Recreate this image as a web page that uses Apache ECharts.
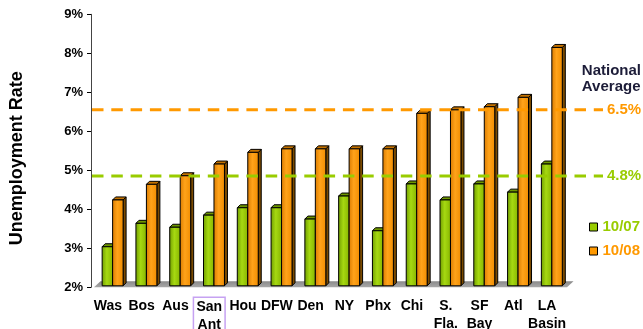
<!DOCTYPE html>
<html>
<head>
<meta charset="utf-8">
<script src="https://cdn.jsdelivr.net/npm/echarts@6/dist/echarts.min.js"></script>
<style>
  html, body { margin: 0; padding: 0; background: #ffffff; }
  #chart { width: 643px; height: 329px; }
</style>
</head>
<body>
<div id="chart"></div>
<script>
// Metro unemployment rates, October 2007 vs October 2008 (percent)
const categories = ['Was', 'Bos', 'Aus', 'San\nAnt', 'Hou', 'DFW', 'Den', 'NY', 'Phx', 'Chi', 'S.\nFla.', 'SF\nBay', 'Atl', 'LA\nBasin'];
const rate2007 = [3.04, 3.64, 3.54, 3.85, 4.04, 4.04, 3.75, 4.34, 3.45, 4.65, 4.24, 4.65, 4.44, 5.16];
const rate2008 = [4.24, 4.64, 4.86, 5.16, 5.46, 5.55, 5.55, 5.55, 5.55, 6.46, 6.55, 6.63, 6.87, 8.15];
const seriesNames = ['10/07', '10/08'];
const nationalAverage = [4.8, 6.5];   // 10/07, 10/08
const highlighted = 'San\nAnt';
const yMin = 2, yMax = 9, yStep = 1;

const FONT = '"Liberation Sans", Arial, Helvetica, sans-serif';
const GREEN = '#99cc00';
const ORANGE = '#ff9900';
const palette = {
  green:  { front: ['#6f9c00', '#a6d911', '#86b300'], side: '#4f6b00', top: '#6e9600' },
  orange: { front: ['#d97a00', '#ffa31a', '#f08c00'], side: '#7a4a00', top: '#c47200' }
};
const DX = 3, DY = 3;        // bar depth
const WALL = 2;              // reference lines sit on the back wall

function barRenderer(slot, pal) {
  return function (params, api) {
    const i = api.value(0);
    const v = api.value(1);
    const bw = api.size([1, 0])[0];
    const topPt = api.coord([i, v]);
    const basePt = api.coord([i, yMin]);
    const w = bw * 0.31;
    const x0 = topPt[0] - bw * 0.17 + slot * w;
    const x1 = x0 + w;
    const yT = topPt[1];
    const yB = basePt[1] - 1.5;
    const grad = new echarts.graphic.LinearGradient(0, 0, 1, 0, [
      { offset: 0, color: pal.front[0] },
      { offset: 0.45, color: pal.front[1] },
      { offset: 1, color: pal.front[2] }
    ]);
    const edge = { stroke: '#000', lineWidth: 1, lineJoin: 'round' };
    return {
      type: 'group',
      children: [
        { type: 'polygon', shape: { points: [[x1, yT], [x1 + DX, yT - DY], [x1 + DX, yB - DY], [x1, yB]] },
          style: Object.assign({ fill: pal.side }, edge) },
        { type: 'polygon', shape: { points: [[x0, yT], [x0 + DX, yT - DY], [x1 + DX, yT - DY], [x1, yT]] },
          style: Object.assign({ fill: pal.top }, edge) },
        { type: 'rect', shape: { x: x0, y: yT, width: w, height: yB - yT },
          style: Object.assign({ fill: grad }, edge) }
      ]
    };
  };
}

function floorRenderer(params, api) {
  const cs = params.coordSys;
  const yb = api.coord([0, yMin])[1];
  const xl = cs.x + 3, xr = cs.x + cs.width + 3;
  return {
    type: 'polygon',
    shape: { points: [[xl, yb], [xr, yb], [xr + 6.5, yb - 6], [xl + 6.5, yb - 6]] },
    style: { fill: new echarts.graphic.LinearGradient(0, 0, 0, 1, [
      { offset: 0, color: '#8a8a8a' }, { offset: 1, color: '#a8a8a8' }
    ]) }
  };
}

const lineColors = [GREEN, ORANGE];
function averageRenderer(params, api) {
  const cs = params.coordSys;
  const v = api.value(1);
  const y = api.coord([0, v])[1] - WALL;
  const xEnd = cs.x + cs.width + 39;
  const color = lineColors[params.dataIndex];
  return {
    type: 'group',
    children: [
      { type: 'line', shape: { x1: cs.x + 1, y1: y, x2: xEnd, y2: y },
        style: { stroke: color, lineWidth: 3, lineDash: [11.5, 7.8] } },
      { type: 'text', x: xEnd + 4, y: y,
        style: { text: v.toFixed(1) + '%', fill: color, font: 'bold 15px ' + FONT,
                 textAlign: 'left', textVerticalAlign: 'middle' } }
    ]
  };
}

const xData = categories.map(function (c) {
  if (c !== highlighted) return c;
  return { value: c, textStyle: { borderColor: '#c6a2f2', borderWidth: 1.5, padding: [1, 3, 14, 3] } };
});

const chart = echarts.init(document.getElementById('chart'), null, { renderer: 'canvas' });
chart.setOption({
  animation: false,
  backgroundColor: '#ffffff',
  textStyle: { fontFamily: FONT },
  title: {
    text: 'National\nAverage',
    right: 2,
    top: 63,
    padding: 0,
    textStyle: { fontFamily: FONT, fontWeight: 'bold', fontSize: 15, lineHeight: 16, color: '#1c1c38' }
  },
  legend: {
    orient: 'vertical',
    left: 589,
    top: 219,
    padding: 0,
    icon: 'rect',
    itemWidth: 8,
    itemHeight: 8,
    itemGap: 8,
    itemStyle: { borderColor: '#000', borderWidth: 1 },
    textStyle: { fontFamily: FONT, fontWeight: 'bold', fontSize: 15, lineHeight: 16 },
    data: [
      { name: seriesNames[0], textStyle: { color: GREEN } },
      { name: seriesNames[1], textStyle: { color: ORANGE } }
    ]
  },
  grid: { left: 91, top: 14.3, width: 473, height: 273, containLabel: false, outerBoundsMode: 'none' },
  xAxis: {
    type: 'category',
    data: xData,
    axisLine: { show: false },
    axisTick: { show: false },
    axisLabel: { interval: 0, margin: 10, color: '#000', fontFamily: FONT, fontWeight: 'bold',
                 fontSize: 14, lineHeight: 18 }
  },
  yAxis: {
    type: 'value',
    min: yMin, max: yMax, interval: yStep,
    name: 'Unemployment Rate',
    nameLocation: 'middle',
    nameRotate: 90,
    nameGap: 65,
    nameTextStyle: { fontFamily: FONT, fontWeight: 'bold', fontSize: 18, color: '#000',
                     padding: [0, 15, 0, 0] },
    axisLine: { show: true, lineStyle: { color: '#444', width: 1 } },
    axisTick: { show: true, length: 4, lineStyle: { color: '#000' } },
    splitLine: { show: false },
    axisLabel: { margin: 8, color: '#000', fontFamily: FONT, fontWeight: 'bold', fontSize: 13,
                 formatter: '{value}%' }
  },
  series: [
    { type: 'custom', name: 'floor', silent: true, renderItem: floorRenderer,
      data: [[0, yMin]], encode: { x: 0, y: 1 }, z: 1 },
    { type: 'custom', name: seriesNames[0], renderItem: barRenderer(0, palette.green),
      itemStyle: { color: GREEN }, encode: { x: 0, y: 1 }, z: 2,
      data: rate2007.map(function (v, i) { return [i, v]; }) },
    { type: 'custom', name: seriesNames[1], renderItem: barRenderer(1, palette.orange),
      itemStyle: { color: ORANGE }, encode: { x: 0, y: 1 }, z: 3,
      data: rate2008.map(function (v, i) { return [i, v]; }) },
    { type: 'custom', name: 'National Average', silent: true, renderItem: averageRenderer,
      encode: { x: 0, y: 1 }, z: 4,
      data: nationalAverage.map(function (v) { return [0, v]; }) }
  ]
});
</script>
</body>
</html>
